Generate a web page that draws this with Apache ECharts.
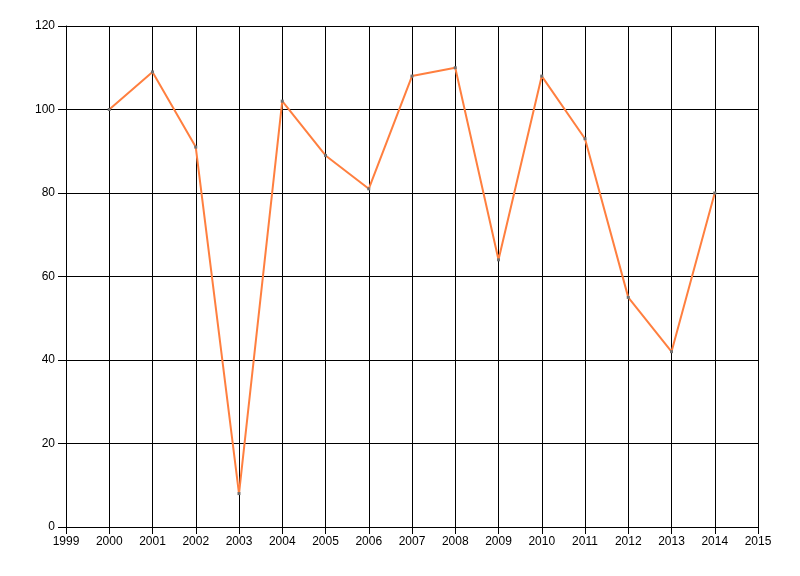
<!DOCTYPE html>
<html>
<head>
<meta charset="utf-8">
<script src="https://cdn.jsdelivr.net/npm/echarts@6/dist/echarts.min.js"></script>
<style>
  html, body { margin: 0; padding: 0; background: #fff; }
  #chart { width: 800px; height: 576px; }
</style>
</head>
<body>
<div id="chart"></div>
<script>
// values
var years = [2000, 2001, 2002, 2003, 2004, 2005, 2006, 2007, 2008, 2009, 2010, 2011, 2012, 2013, 2014];
var values = [100, 109, 91, 8, 102, 89, 81, 108, 110, 64, 108, 93, 55, 42, 80];

var xMin = 1999, xMax = 2015;
var yMin = 0, yMax = 120, yStep = 20;

var points = years.map(function (y, i) { return [y, values[i]]; });

var labelStyle = {
  color: '#000',
  fontFamily: 'Liberation Sans, Arial, sans-serif',
  fontSize: 12
};

var chart = echarts.init(document.getElementById('chart'));
chart.setOption({
  animation: false,
  backgroundColor: '#fff',
  grid: { left: 66, right: 42, top: 26, bottom: 49, containLabel: false },
  xAxis: {
    type: 'value',
    min: xMin,
    max: xMax,
    interval: 1,
    axisLine: { show: true, lineStyle: { color: '#000', width: 1 } },
    axisTick: { show: true, length: 7, lineStyle: { color: '#000' } },
    axisLabel: Object.assign({ margin: 9, formatter: function (v) { return String(v); } }, labelStyle),
    splitLine: { show: true, lineStyle: { color: '#000', width: 1 } }
  },
  yAxis: {
    type: 'value',
    min: yMin,
    max: yMax,
    interval: yStep,
    axisLine: { show: true, lineStyle: { color: '#000', width: 1 } },
    axisTick: { show: true, length: 8, lineStyle: { color: '#000' } },
    axisLabel: Object.assign({ margin: 11 }, labelStyle),
    splitLine: { show: true, lineStyle: { color: '#000', width: 1 } }
  },
  series: [{
    type: 'line',
    data: points,
    symbol: 'rect',
    symbolSize: 3,
    showSymbol: true,
    itemStyle: { color: '#707070' },
    lineStyle: { color: '#FF7F3F', width: 2 }
  }]
});
</script>
</body>
</html>
